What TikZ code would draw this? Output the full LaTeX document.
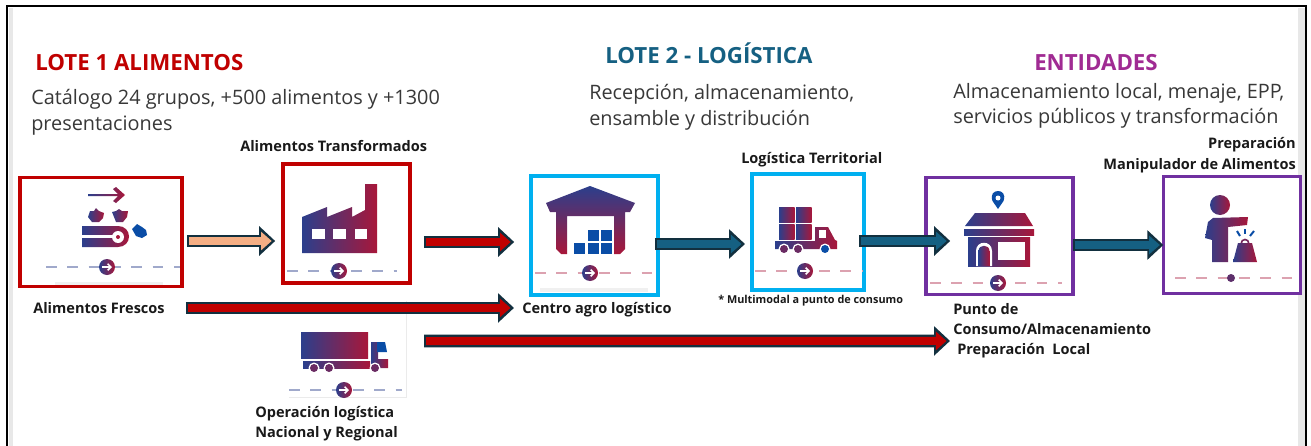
\documentclass[tikz,border=0pt]{standalone}
\usepackage{fontspec}
\setmainfont{Open Sans}
\usetikzlibrary{arrows.meta,positioning}
\definecolor{icoblue}{HTML}{2B3F8C}
\definecolor{icored}{HTML}{A8173A}
\definecolor{pinblue}{HTML}{0A4DA6}
\definecolor{lotered}{HTML}{C00000}
\definecolor{loteblue}{HTML}{00B0F0}
\definecolor{lotepurple}{HTML}{7030A0}
\definecolor{lotepeach}{HTML}{F4AE84}
\definecolor{loteteal}{HTML}{156082}
\definecolor{arrowdark}{HTML}{12303F}
\definecolor{headpurple}{HTML}{A02B93}
\definecolor{bodygray}{HTML}{383838}
\tikzset{
    x=0.75pt, y=-0.75pt,
    framebox/.style = {draw=#1, line width=2.6pt, inner sep=0pt, outer sep=0pt, fill=white},
    head/.style = {anchor=base west, inner sep=0pt, font=\fontsize{16.7pt}{18pt}\selectfont\bfseries},
    body/.style = {anchor=base west, inner sep=0pt, font=\fontsize{14.9pt}{16pt}\selectfont, text=bodygray},
    tag/.style = {anchor=base west, inner sep=0pt, font=\fontsize{10.9pt}{11pt}\selectfont\bfseries, text=black!90},
    fatarrow/.style = {
        preaction = {draw=arrowdark, line width=9.6pt, shorten >=0pt, shorten <=0pt,
            -{Triangle[length=12pt,width=21.5pt]}},
        draw=#1, line width=6pt, shorten >=2.6pt, shorten <=1.4pt,
        -{Triangle[length=8pt,width=13.5pt]}},
    ico/.style = {left color=icoblue, right color=icored}
}
% dashed rule with the round marker
\newcommand{\flowrule}[5]{
    \draw[#4, line width=1.1pt, dash pattern=on 8pt off 8pt] (#1,#3) -- (#2,#3);
    \shade[ico] (#5,#3) circle (8);
    \draw[white, line width=1.1pt, -{Straight Barb[length=2.5pt,width=5pt]}] (#5-5,#3) -- (#5+5,#3);
}
\begin{document}
\begin{tikzpicture}
\useasboundingbox (0,0) rectangle (1311,446);
\fill[white] (0,0) rectangle (1311,446);
\fill[black!9] (9,8) rectangle (13,446);
\fill[black!9] (1298,8) rectangle (1305,446);
\draw[black, line width=1.6pt] (7,446) -- (7,6) -- (1306,6) -- (1306,446);

% headings
\node[head, text=lotered] (lote1) at (35,70) {LOTE 1 ALIMENTOS};
\node[head, text=loteteal] (lote2) at (605,63) {LOTE 2 - LOGÍSTICA};
\node[head, text=headpurple] (entidades) at (1034,70) {ENTIDADES};
\node[body] (cat1) at (31,104) {Catálogo 24 grupos, +500 alimentos y +1300};
\node[body] (cat2) at (31,130) {presentaciones};
\node[body] (rec1) at (589,99) {Recepción, almacenamiento,};
\node[body] (rec2) at (589,125) {ensamble y distribución};
\node[body] (alm1) at (953,98) {Almacenamiento local, menaje, EPP,};
\node[body] (alm2) at (953,123) {servicios públicos y transformación};

% boxes
\node[framebox=lotered, minimum width=121.5pt, minimum height=82pt] (frescos) at (101,232) {};
\node[framebox=lotered, minimum width=95pt, minimum height=89pt] (transformados) at (346.5,223.5) {};
\node[framebox=loteblue, minimum width=95pt, minimum height=89pt] (centro) at (594.5,235.5) {};
\node[framebox=loteblue, minimum width=84pt, minimum height=87pt] (territorial) at (808,232) {};
\node[framebox=lotepurple, minimum width=110pt, minimum height=88pt] (punto) at (999.5,236) {};
\node[framebox=lotepurple, minimum width=103pt, minimum height=88pt] (manipulador) at (1232,235) {};
\node[outer sep=0pt, minimum width=88pt, minimum height=72pt, inner sep=0pt] (nacional) at (347.5,349) {};
\draw[black!8, line width=0.5pt] (nacional.north east) -- (nacional.south east) -- (nacional.south west);
\fill[black!6] (55,282) rectangle (163,285);
\fill[black!6] (540,288) rectangle (648,292);

% labels
\node[tag] (lfrescos) at (33,313) {Alimentos Frescos};
\node[tag] (ltransf) at (240,151) {Alimentos Transformados};
\node[tag] (lcentro) at (522,313) {Centro agro logístico};
\node[tag] (lterr) at (741,163) {Logística Territorial};
\node[tag, font=\fontsize{8.15pt}{9pt}\selectfont\bfseries] (lmulti) at (718,303) {* Multimodal a punto de consumo};
\node[tag] (lpunto) at (953,314) {Punto de};
\node[tag] (lconsumo) at (953,334) {Consumo/Almacenamiento};
\node[tag] (lprep) at (957,354) {Preparación~~Local};
\node[tag, anchor=base east] (lpreparacion) at (1296,148) {Preparación};
\node[tag, anchor=base east] (lmanip) at (1296,169) {Manipulador de Alimentos};
\node[tag] (loper) at (255,417) {Operación logística};
\node[tag] (lnac) at (255,437) {Nacional y Regional};

% arrows
\draw[fatarrow=lotepeach] ([shift={(5,9)}]frescos.east) -- ([shift={(-8,17.5)}]transformados.west);
\draw[fatarrow=lotered] ([shift={(14,18.5)}]transformados.east) -- ([shift={(-17,6.5)}]centro.west);
\draw[fatarrow=lotered] ([shift={(21,-1.5)}]lfrescos.mid east) -- ([shift={(-8,-1.5)}]lcentro.mid west);
\draw[fatarrow=lotered] ([shift={(18,-8)}]nacional.east) -- ([shift={(-7,-9.5)}]lprep.mid west);
\draw[fatarrow=loteteal] ([shift={(-3,8.5)}]centro.east) -- ([shift={(-7,12)}]territorial.west);
\draw[fatarrow=loteteal] ([shift={(-5,9)}]territorial.east) -- ([shift={(24,5)}]punto.west);
\draw[fatarrow=loteteal] ([shift={(0,9)}]punto.east) -- ([shift={(0,10)}]manipulador.west);

% fresh food
\shade[ico] (88,194) -- (118,194) -- (113,189) -- (116,187) -- (125,195) -- (116,203) -- (113,201) -- (118,196) -- (88,196) -- cycle;
\shade[ico] (88,217) -- (90,211) -- (94,211) -- (96,208) -- (99,211) -- (104,213) -- (103,218) -- (99,222) -- (92,222) -- cycle;
\shade[ico] (112,212) -- (116,211) -- (119,209) -- (122,211) -- (128,211) -- (127,217) -- (123,222) -- (116,222) -- cycle;
\shade[ico] (82,226) -- (118,226) .. controls (125,226) and (129,231) .. (129,236.5) .. controls (129,242) and (125,247) .. (118,247) -- (82,247) -- cycle;
\fill[white] (82,235) rectangle (114,238);
\fill[white] (118,237) circle (6);
\fill[icored] (118,237) circle (2);
\fill[pinblue] (132,229) -- (137,224) -- (142,227) -- (146,230) -- (147,235) -- (142,238) -- (136,236) -- cycle;
\flowrule{46}{180}{267}{icoblue!45}{107}

% factory
\shade[ico] (302,217) -- (327,207) -- (327,217) -- (352,207) -- (352,217) -- (365,210) -- (365,184) -- (377,184) -- (377,253) -- (302,253) -- cycle;
\fill[white] (312,229) rectangle (325,239);
\fill[white] (333,229) rectangle (346,239);
\fill[white] (355,229) rectangle (367,239);
\flowrule{287}{397}{271}{icoblue!45}{339}

% warehouse
\shade[top color=icoblue, bottom color=icored] (590,186) -- (635,203) -- (630,212) -- (625,212) -- (625,249) -- (620,254) -- (614,254) -- (614,216) -- (567,216) -- (567,254) -- (561,254) -- (556,249) -- (556,212) -- (550,212) -- (546,203) -- cycle;
\foreach \bx/\by in {574/243, 588/243, 601/243, 588/230, 601/230}
    \fill[pinblue] (\bx,\by) rectangle ++(11,11);
\flowrule{535}{652}{273}{icored!40}{590}

% small truck
\foreach \bx/\by in {779/207, 796/207, 779/224, 796/224}
    \shade[ico] (\bx,\by) rectangle ++(15.5,15.5);
\shade[ico] (775,241) -- (815,241) -- (815,227) -- (828,227) -- (835,240) -- (837,241) -- (837,249) -- (775,249) -- cycle;
\fill[white] (819,230) rectangle (826,238);
\foreach \wx/\wc in {784/icoblue!50!icored, 798/icoblue!50!icored, 825/pinblue} {
    \fill[white] (\wx,249) circle (5.5);
    \fill[\wc] (\wx,249) circle (4);
}
\flowrule{755}{862}{271}{icored!40}{805}

% shop
\fill[pinblue] (998,209) -- (992.5,201) .. controls (990,194) and (994,191) .. (998,191) .. controls (1002,191) and (1006,194) .. (1003.5,201) -- cycle;
\fill[white] (998,198) circle (2.5);
\shade[ico] (975,213) -- (1025,213) -- (1033,226) -- (965,226) -- cycle;
\shade[ico] (964,229) rectangle (1034,235);
\shade[ico] (968,237) rectangle (1030,266);
\fill[white] (976,266) -- (976,251) .. controls (976,240) and (992,240) .. (992,251) -- (992,266) -- cycle;
\shade[ico] (978.5,266) -- (978.5,251) .. controls (978.5,244) and (989.5,244) .. (989.5,251) -- (989.5,266) -- cycle;
\fill[white] (998,242) rectangle (1025,260);
\flowrule{930}{1062}{283}{icored!40}{998}

% person
\shade[ico] (1220,205) circle (10);
\shade[ico] (1205,238) -- (1208,222) -- (1213,218) -- (1248,217) -- (1247,225) -- (1228,227) -- (1228,262) -- (1212,262) -- (1212,240) -- cycle;
\draw[icored!60!icoblue, line width=1.2pt] (1241,244) .. controls (1241,238) and (1249,238) .. (1249,244);
\shade[ico] (1238,243) -- (1252,243) -- (1257,262) -- (1233,262) -- cycle;
\foreach \sa/\sb/\sc/\sd in {1237/231/1240/236, 1245/229/1245/234, 1254/231/1250/236}
    \draw[pinblue, line width=1.5pt] (\sa,\sb) -- (\sc,\sd);
\draw[icored!40, line width=1.1pt, dash pattern=on 8pt off 8pt] (1175,278) -- (1295,278);
\fill[icoblue!60!icored] (1231,278) circle (4);

% big truck
\shade[ico] (301,332) rectangle (368,358);
\shade[ico] (303,361) rectangle (370,368);
\shade[ico] (371,342) -- (378,342) -- (378,359) -- (388,359) -- (388,368) -- (371,368) -- cycle;
\fill[pinblue] (377,342) -- (385,342) -- (387,352) -- (377,352) -- cycle;
\foreach \wx in {314,329,375} {
    \fill[white] (\wx,368) circle (5.5);
    \fill[icoblue!50!icored] (\wx,368) circle (4);
}
\flowrule{289}{402}{390}{icoblue!45}{344}
\end{tikzpicture}
\end{document}
